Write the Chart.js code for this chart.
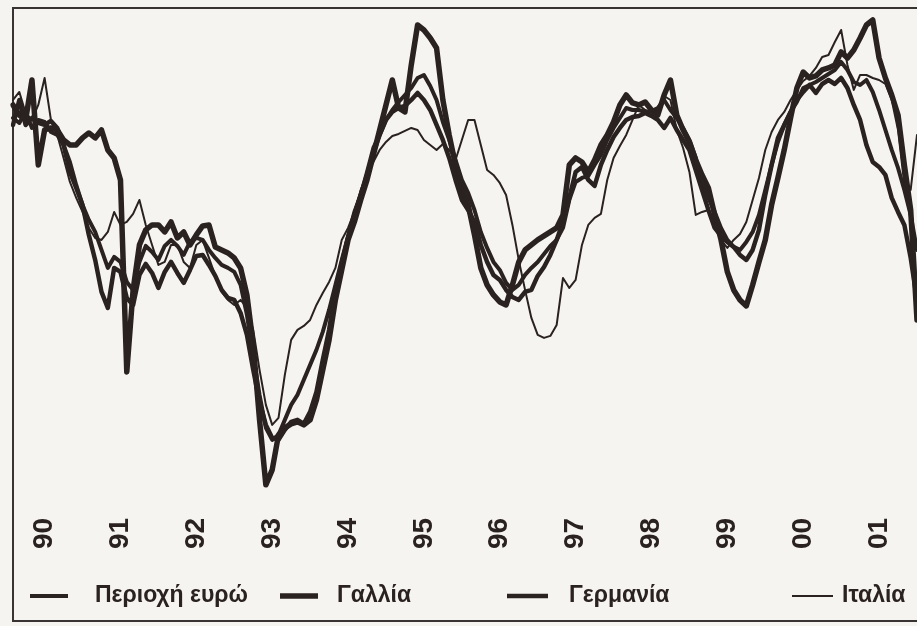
<!DOCTYPE html>
<html>
<head>
<meta charset="utf-8">
<script src="https://cdn.jsdelivr.net/npm/chart.js@4.4.1/dist/chart.umd.min.js"></script>
<style>
    html, body { margin: 0; padding: 0; background: #f6f4f1; }
    #wrap { position: relative; width: 917px; height: 626px; }
</style>
</head>
<body>
<div id="wrap"><canvas id="chart" width="917" height="626"></canvas></div>
<script>
// --- Data (monthly, Aug 1989 .. Jul 2001) ---
const firstMonth = { year: 1989, month: 8 }
const monthCount = 144
const yearLabels = ['90', '91', '92', '93', '94', '95', '96', '97', '98', '99', '00', '01']
const seriesNames = ['Περιοχή ευρώ', 'Γαλλία', 'Γερμανία', 'Ιταλία']

const euroArea = [8.6, 8.35, 8.9, 8.1, 8.5,
    8.4, 7.9, 7.75, 7.25, 6.4, 5.25, 4.25, 3.5, 2.9, 2.0, 1.1, 1.65,
    1.4, 0.4, 0, 1.4, 2.2, 1.9, 1.5, 2.2, 2.5, 2.2, 1.75, 2.4,
    2.6, 2.5, 2.0, 1.6, 1.25, 1.1, 0.9, 0.25, -1.25, -3.25, -5.25, -6.9,
    -7.5, -7.25, -6.5, -5.75, -5.25, -4.5, -3.75, -3.0, -2.1, -1.0, 0.25, 1.5,
    2.7, 3.9, 4.75, 5.9, 7.1, 7.75, 8.5, 9.0, 9.4, 9.75, 10.1, 10.6,
    10.75, 10.2, 9.5, 8.4, 7.5, 6.5, 5.5, 4.85, 4.0, 2.9, 2.1, 1.4,
    1.0, 0.35, 0, 0.25, 0.75, 1.1, 1.4, 1.8, 2.2, 2.5, 3.1, 4.5,
    5.4, 5.6, 5.7, 6.25, 6.75, 7.5, 8.1, 8.6, 9.1, 9.0, 9.0, 8.9,
    8.95, 9.1, 9.5, 9.0, 8.6, 8.1, 7.5, 6.6, 5.5, 4.6, 3.9, 3.1,
    2.5, 2.15, 2.0, 2.4, 2.9, 3.75, 5.0, 6.25, 7.4, 8.25, 8.9, 9.4,
    10.1, 10.25, 10.4, 10.6, 10.8, 11.0, 11.4, 11.0, 10.4, 10.25, 10.5, 9.9,
    9.0, 8.0, 7.0, 6.1, 5.0, 3.75, 2.0]

const france = [9.25, 8.75, 8.5, 10.5, 6.25,
    8.0, 8.1, 8.0, 7.5, 7.25, 7.25, 7.6, 7.85, 7.6, 8.0, 7.0, 6.6,
    5.5, -4.1, 0, 2.25, 3.0, 3.25, 3.25, 2.9, 3.4, 2.6, 2.9, 2.25,
    2.75, 3.2, 3.25, 2.15, 2.0, 1.85, 1.6, 1.1, -0.25, -2.75, -6.5, -9.75,
    -9.0, -7.25, -6.9, -6.7, -6.6, -6.75, -6.5, -5.5, -4.0, -2.5, -0.5, 1.0,
    2.5, 3.4, 4.5, 5.5, 6.75, 8.0, 9.25, 10.5, 9.1, 8.9, 11.25, 13.25,
    13.0, 12.6, 12.1, 9.5, 7.75, 6.25, 5.1, 4.25, 2.75, 1.1, 0.25, -0.25,
    -0.6, -0.75, 0.25, 1.4, 2.0, 2.25, 2.5, 2.7, 2.9, 3.1, 3.75, 6.25,
    6.6, 6.4, 5.9, 6.5, 7.25, 7.75, 8.4, 9.25, 9.75, 9.35, 9.25, 9.4,
    9.0, 8.75, 9.75, 10.5, 8.75, 8.0, 7.4, 6.5, 5.75, 5.1, 3.75, 2.5,
    0.9, 0, -0.5, -0.8, 0.25, 1.4, 2.5, 4.25, 5.6, 7.0, 8.6, 10.1,
    10.9, 10.6, 10.7, 11.0, 11.1, 11.25, 11.9, 11.6, 12.0, 12.6, 13.25, 13.5,
    11.6, 10.6, 9.75, 8.75, 6.25, 4.0, -1.5]

const germany = [8.25, 9.5, 8.25, 8.6, 8.35,
    8.25, 8.45, 8.1, 7.25, 5.9, 5.1, 4.25, 2.75, 1.5, -0.1, -0.9, 1.1,
    0.9, -0.4, -0.75, 0.75, 1.3, 0.85, 0.1, 0.9, 1.4, 0.85, 0.35, 1.0,
    1.7, 1.75, 1.25, 0.7, 0, -0.4, -0.5, -1.15, -2.25, -4.0, -5.6, -6.75,
    -7.4, -7.5, -7.0, -6.6, -6.5, -6.7, -6.1, -5.1, -3.5, -2.0, 0, 1.35,
    2.6, 3.75, 4.75, 5.75, 6.85, 7.75, 8.5, 8.9, 9.1, 9.2, 9.5, 9.85,
    9.5, 9.0, 8.25, 7.5, 6.6, 5.5, 4.5, 4.0, 3.4, 2.25, 1.4, 0.75,
    0.5, 0, -0.35, -0.5, -0.1, 0, 0.7, 1.15, 1.75, 2.5, 3.4, 4.6,
    5.9, 6.15, 5.5, 5.2, 6.25, 7.0, 7.65, 8.1, 8.5, 8.65, 8.7, 8.85,
    8.7, 8.5, 8.1, 8.6, 8.0, 7.5, 7.0, 6.0, 5.0, 4.0, 3.1, 2.7,
    2.4, 2.15, 1.75, 1.5, 2.0, 3.0, 4.75, 6.25, 7.6, 8.25, 8.9, 9.5,
    9.9, 10.25, 9.85, 10.3, 10.5, 10.3, 10.6, 10.1, 9.25, 8.5, 7.25, 6.4,
    6.15, 5.75, 4.6, 3.9, 3.25, 1.6, -0.5]

const italy = [9.5, 9.9, 8.85, 8.5, 9.25,
    10.6, 8.5, 7.75, 6.6, 5.4, 4.6, 3.9, 3.1, 2.6, 2.5, 2.9, 3.9,
    3.25, 3.4, 3.8, 4.5, 3.25, 2.25, 1.25, 1.4, 2.25, 2.25, 1.4, 1.1,
    2.25, 2.5, 1.6, 0.7, -0.1, -0.5, -0.75, -0.5, -0.9, -2.0, -4.0, -5.75,
    -6.75, -6.4, -4.25, -2.5, -2.0, -1.8, -1.5, -0.75, -0.15, 0.4, 1.1, 2.5,
    3.1, 3.9, 5.0, 5.75, 6.4, 7.0, 7.4, 7.7, 7.8, 7.95, 8.1, 8.0,
    7.5, 7.25, 7.0, 7.3, 7.0, 6.5, 7.5, 8.5, 8.5, 7.25, 6.0, 5.75,
    5.35, 4.75, 3.25, 1.5, 0, -1.4, -2.25, -2.4, -2.3, -1.75, 0.6, 0.1,
    0.5, 2.25, 3.25, 3.6, 3.8, 5.5, 6.6, 7.2, 7.75, 8.5, 9.25, 9.0,
    8.85, 9.1, 9.7, 9.5, 8.0, 7.1, 5.9, 3.75, 3.9, 4.0, 3.2, 2.5,
    2.1, 2.5, 2.8, 3.4, 4.5, 5.6, 7.0, 7.9, 8.5, 8.9, 9.5, 10.0,
    10.45, 10.7, 11.1, 11.65, 11.75, 12.4, 13.0, 11.25, 10.0, 10.75, 10.75, 10.6,
    10.5, 10.3, 9.5, 8.0, 5.25, 5.0, 7.75]

// month categories "YYYY-MM"
const months = []
for (let i = 0; i < monthCount; i++) {
    const m0 = firstMonth.month - 1 + i
    const y = firstMonth.year + Math.floor(m0 / 12)
    const m = (m0 % 12) + 1
    months.push(y + '-' + String(m).padStart(2, '0'))
}

// --- Look ---
const INK = '#2a2121'
const PAPER = '#f6f4f1'
const FONT = "'Liberation Sans', Arial, sans-serif"
const lineWidths = [4, 5.5, 4.5, 2]

const paperFrame = {
    id: 'paperFrame',
    beforeDraw(chart) {
        const ctx = chart.ctx
        ctx.save()
        ctx.fillStyle = PAPER
        ctx.fillRect(0, 0, chart.width, chart.height)
        ctx.strokeStyle = '#3a3333'
        ctx.lineWidth = 2
        ctx.beginPath()
        ctx.moveTo(chart.width, 8)
        ctx.lineTo(13, 8)
        ctx.lineTo(13, 621)
        ctx.lineTo(chart.width, 621)
        ctx.stroke()
        ctx.restore()
    }
}

// legend is spread irregularly in the original, so it is drawn by hand
const legendSlots = [
    { line: [30, 68], text: 95 },
    { line: [280, 318], text: 337 },
    { line: [507, 548], text: 569 },
    { line: [792, 833], text: 842 },
]
const pressLegend = {
    id: 'pressLegend',
    afterDraw(chart) {
        const ctx = chart.ctx
        const y = 596
        ctx.save()
        ctx.font = 'bold 23px ' + FONT
        ctx.textBaseline = 'middle'
        ctx.fillStyle = INK
        ctx.strokeStyle = INK
        chart.data.datasets.forEach((ds, i) => {
            const slot = legendSlots[i]
            ctx.lineWidth = ds.borderWidth
            ctx.beginPath()
            ctx.moveTo(slot.line[0], y)
            ctx.lineTo(slot.line[1], y)
            ctx.stroke()
            ctx.fillText(ds.label, slot.text, y)
        })
        ctx.restore()
    }
}

const datasets = [euroArea, france, germany, italy].map((values, i) => ({
    label: seriesNames[i],
    data: values,
    borderColor: INK,
    borderWidth: lineWidths[i],
    pointRadius: 0,
    tension: 0,
    borderJoinStyle: 'round',
    borderCapStyle: 'round',
    fill: false,
}))
// draw the thin line last so it stays visible
const drawOrder = [1, 2, 0, 3]
drawOrder.forEach((idx, pos) => { datasets[idx].order = 10 - pos })

new Chart(document.getElementById('chart'), {
    type: 'line',
    data: { labels: months, datasets },
    options: {
        responsive: false,
        animation: false,
        devicePixelRatio: 1,
        layout: { padding: { left: 13, top: 8, right: 0, bottom: 64 } },
        plugins: { legend: { display: false }, tooltip: { enabled: false } },
        scales: {
            x: {
                type: 'category',
                offset: false,
                grid: { display: false, drawTicks: false },
                border: { display: false },
                // the lines run right up to both frame edges
                afterFit(scale) {
                    scale.paddingLeft = 0
                    scale.paddingRight = 0
                },
                ticks: {
                    autoSkip: false,
                    minRotation: 90,
                    maxRotation: 90,
                    padding: 13,
                    color: INK,
                    font: { family: FONT, size: 28, weight: 'bold' },
                    callback(value, index) {
                        const m = months[index]
                        if (!m.endsWith('-01')) return ''
                        return yearLabels[parseInt(m.slice(0, 4)) - 1990]
                    }
                }
            },
            y: { display: false, min: -10.75, max: 14.1 }
        }
    },
    plugins: [paperFrame, pressLegend]
})
</script>
</body>
</html>
